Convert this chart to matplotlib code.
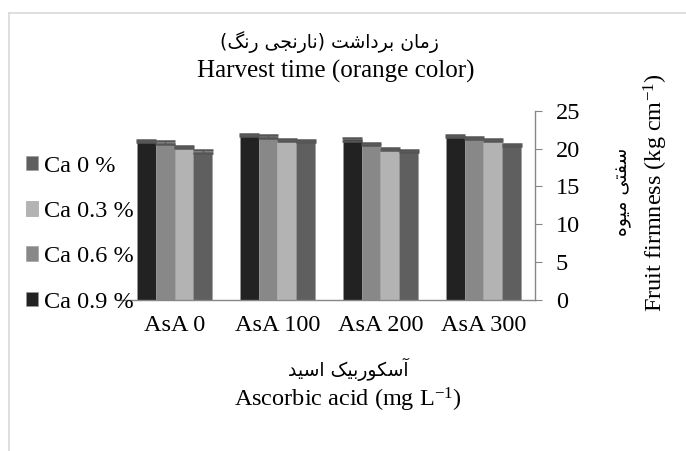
import matplotlib
matplotlib.use("Agg")
import matplotlib.pyplot as plt
import numpy as np
from matplotlib.lines import Line2D

# ---------------- data ----------------
categories = ["AsA 0", "AsA 100", "AsA 200", "AsA 300"]
series_labels = ["Ca 0.9 %", "Ca 0.6 %", "Ca 0.3 %", "Ca 0 %"]
ca_09 = [21.0, 21.8, 21.2, 21.7]
ca_06 = [20.8, 21.6, 20.6, 21.4]
ca_03 = [20.2, 21.1, 19.9, 21.1]
ca_00 = [19.6, 21.0, 19.7, 20.5]
errors = [0.15, 0.15, 0.15, 0.15]
series_values = [ca_09, ca_06, ca_03, ca_00]
series_colors = ["#222222", "#888888", "#b3b3b3", "#5f5f5f"]
yticks = [0, 5, 10, 15, 20, 25]

title_fa = "زمان برداشت (نارنجی رنگ)"
title_en = "Harvest time (orange color)"
xlabel_fa = "آسکوربیک اسید"
xlabel_en = "Ascorbic acid (mg L$^{-1}$)"
ylabel_fa = "سفتی میوه"
ylabel_en = "Fruit firmness (kg cm$^{-1}$)"

# --------- simple Persian shaping (presentation forms, visual order) ---------
FORMS = {
    'ا': ('\uFE8D', '\uFE8E', None, None),
    'آ': ('\uFE81', '\uFE82', None, None),
    'ب': ('\uFE8F', '\uFE90', '\uFE91', '\uFE92'),
    'ت': ('\uFE95', '\uFE96', '\uFE97', '\uFE98'),
    'ج': ('\uFE9D', '\uFE9E', '\uFE9F', '\uFEA0'),
    'د': ('\uFEA9', '\uFEAA', None, None),
    'ر': ('\uFEAD', '\uFEAE', None, None),
    'ز': ('\uFEAF', '\uFEB0', None, None),
    'س': ('\uFEB1', '\uFEB2', '\uFEB3', '\uFEB4'),
    'ش': ('\uFEB5', '\uFEB6', '\uFEB7', '\uFEB8'),
    'ف': ('\uFED1', '\uFED2', '\uFED3', '\uFED4'),
    'م': ('\uFEE1', '\uFEE2', '\uFEE3', '\uFEE4'),
    'ن': ('\uFEE5', '\uFEE6', '\uFEE7', '\uFEE8'),
    'ه': ('\uFEE9', '\uFEEA', '\uFEEB', '\uFEEC'),
    'و': ('\uFEED', '\uFEEE', None, None),
    'ی': ('\uFBFC', '\uFBFD', '\uFBFE', '\uFBFF'),
    'ک': ('\uFB8E', '\uFB8F', '\uFB90', '\uFB91'),
    'گ': ('\uFB92', '\uFB93', '\uFB94', '\uFB95'),
}


def shape_fa(text):
    chars = list(text)
    out = []
    for i, c in enumerate(chars):
        if c not in FORMS:
            out.append(c)
            continue
        prev = chars[i - 1] if i > 0 else None
        nxt = chars[i + 1] if i + 1 < len(chars) else None
        join_prev = prev in FORMS and FORMS[prev][2] is not None
        join_next = nxt in FORMS and FORMS[c][2] is not None
        iso, fin, ini, med = FORMS[c]
        if join_prev and join_next:
            out.append(med)
        elif join_prev:
            out.append(fin)
        elif join_next:
            out.append(ini)
        else:
            out.append(iso)
    s = ''.join(out)[::-1]
    return s.translate(str.maketrans('()', ')('))


plt.rcParams['font.family'] = ['Liberation Serif', 'DejaVu Sans']
plt.rcParams['mathtext.fontset'] = 'custom'
plt.rcParams['mathtext.rm'] = 'Liberation Serif'
plt.rcParams['mathtext.it'] = 'Liberation Serif'
plt.rcParams['mathtext.default'] = 'rm'

FS = 17.5
TITLE_FS = 18
FA_FS = 13.5
FA_FAMILY = ['DejaVu Sans']

fig = plt.figure(figsize=(6.86, 4.51), dpi=100)
ax = fig.add_axes([123 / 686, 151 / 451, (535 - 123) / 686, (300 - 110.7) / 451])

x = np.arange(len(categories))
bw = 0.182
n = len(series_values)
handles = []
for k, (vals, col, lab) in enumerate(zip(series_values, series_colors, series_labels)):
    pos = x + (k - (n - 1) / 2) * bw
    b = ax.bar(pos, vals, width=bw, color=col, edgecolor='#9a9a9a', linewidth=0.4, label=lab)
    ax.errorbar(pos, vals, yerr=errors, fmt='none', ecolor='#555555', elinewidth=1.0,
                capsize=7.5, capthick=1.8)
    handles.append(b)

ax.set_xlim(-0.5, 3.5)
ax.set_ylim(0, 25)
ax.set_yticks(yticks)
ax.set_xticks(x)
ax.set_xticklabels(categories, fontsize=FS)
ax.yaxis.tick_right()
ax.tick_params(axis='y', direction='out', length=5, color='#878787', labelsize=FS, pad=10)
ax.tick_params(axis='x', length=0, pad=11)
for side in ['top', 'left']:
    ax.spines[side].set_visible(False)
ax.spines['right'].set_color('#878787')
ax.spines['bottom'].set_color('#878787')
ax.spines['right'].set_linewidth(1.0)
ax.spines['bottom'].set_linewidth(1.0)
ax.spines['bottom'].set_bounds(-0.55, 3.5)

# legend (left side, reversed order)
leg = fig.legend(handles[::-1], series_labels[::-1], loc='upper left',
                 bbox_to_anchor=(16 / 686, 1 - 146 / 451), frameon=False,
                 fontsize=FS, handlelength=0.5, handleheight=0.55,
                 handletextpad=0.25, labelspacing=1.0, borderaxespad=0)

# titles
fig.text(329 / 686, 1 - 42 / 451, shape_fa(title_fa), ha='center', va='center',
         fontsize=FA_FS, family=FA_FAMILY)
fig.text(336 / 686, 1 - 71 / 451, title_en, ha='center', va='center', fontsize=TITLE_FS)
fig.text(348 / 686, 1 - 369 / 451, shape_fa(xlabel_fa), ha='center', va='center',
         fontsize=FA_FS, family=FA_FAMILY)
fig.text(348 / 686, 1 - 400 / 451, xlabel_en, ha='center', va='center', fontsize=FS)
fig.text(622 / 686, 1 - 192 / 451, shape_fa(ylabel_fa), ha='center', va='center',
         fontsize=FA_FS, family=FA_FAMILY, rotation=90)
fig.text(656 / 686, 1 - 193 / 451, ylabel_en, ha='center', va='center', fontsize=FS,
         rotation=90)

# light outer border
fig.add_artist(Line2D([8.5 / 686, 8.5 / 686], [0, 1 - 12.5 / 451], transform=fig.transFigure,
                      color='#d9d9d9', linewidth=1.2))
fig.add_artist(Line2D([8.5 / 686, 1], [1 - 12.5 / 451, 1 - 12.5 / 451], transform=fig.transFigure,
                      color='#d9d9d9', linewidth=1.2))

fig.savefig('out.png', dpi=100, facecolor='white')
